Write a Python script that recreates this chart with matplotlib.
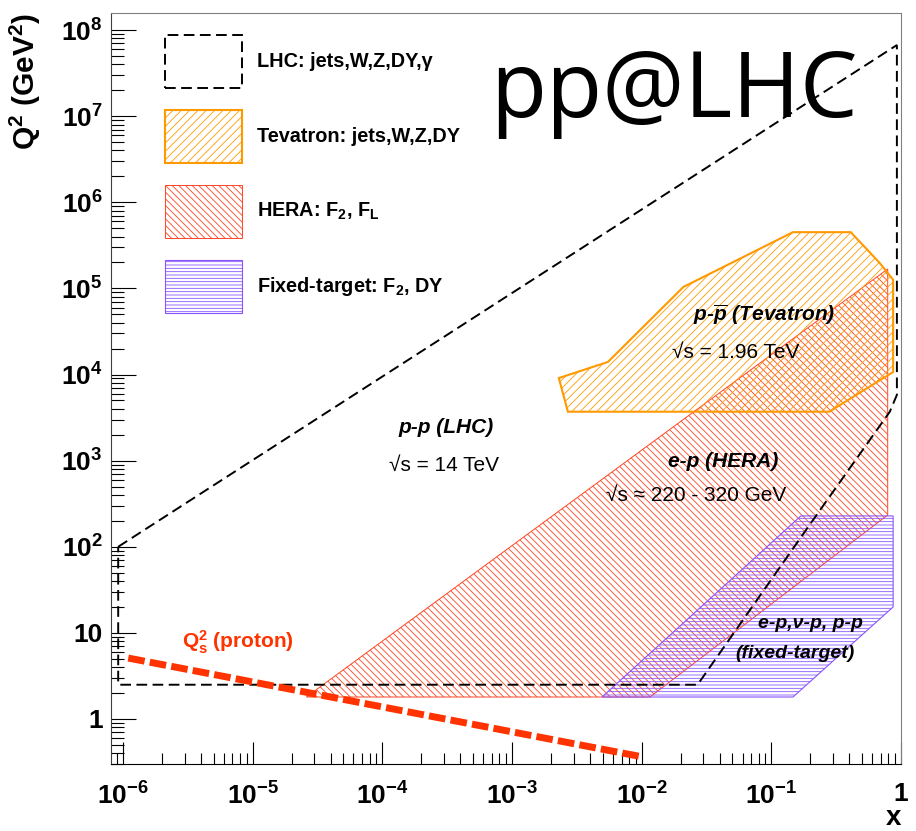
import matplotlib
matplotlib.use("Agg")
import matplotlib.pyplot as plt
from matplotlib.ticker import FixedLocator, FixedFormatter, LogLocator, NullFormatter

plt.rcParams['font.family'] = ['Liberation Sans', 'DejaVu Sans']
plt.rcParams['mathtext.fontset'] = 'custom'
plt.rcParams['mathtext.rm'] = 'Liberation Sans'
plt.rcParams['mathtext.bf'] = 'Liberation Sans:bold'
plt.rcParams['mathtext.it'] = 'Liberation Sans:italic:bold'
plt.rcParams['hatch.linewidth'] = 0.6

# kinematic regions in the (x, Q^2) plane
lhc_x = [9.2e-7, 0.93, 0.93, 0.82, 0.21, 0.027, 9.2e-7]
lhc_q2 = [100, 6.7e7, 5800, 3700, 205, 2.5, 2.5]

tev_x = [2.3e-3, 5.5e-3, 0.021, 0.147, 0.41, 0.68, 0.87, 0.87, 0.28, 2.7e-3]
tev_q2 = [9.1e3, 1.4e4, 1.04e5, 4.5e5, 4.5e5, 2.0e5, 1.26e5, 1.07e4, 3.7e3, 3.7e3]

hera_x = [2.6e-5, 0.79, 0.79, 0.0116]
hera_q2 = [1.8, 1.68e5, 234, 1.8]

fixed_x = [0.169, 0.87, 0.87, 0.147, 4.95e-3]
fixed_q2 = [228, 228, 20, 1.8, 1.8]

# saturation scale of the proton
qs_x = [1.1e-6, 9.5e-3]
qs_q2 = [5.1, 0.37]

xticks = [1e-6, 1e-5, 1e-4, 1e-3, 1e-2, 1e-1, 1]
xlabels = [r'$\mathbf{10^{-6}}$', r'$\mathbf{10^{-5}}$', r'$\mathbf{10^{-4}}$',
           r'$\mathbf{10^{-3}}$', r'$\mathbf{10^{-2}}$', r'$\mathbf{10^{-1}}$', '1']
yticks = [1, 10, 1e2, 1e3, 1e4, 1e5, 1e6, 1e7, 1e8]
ylabels = ['1', '10', r'$\mathbf{10^{2}}$', r'$\mathbf{10^{3}}$', r'$\mathbf{10^{4}}$',
           r'$\mathbf{10^{5}}$', r'$\mathbf{10^{6}}$', r'$\mathbf{10^{7}}$', r'$\mathbf{10^{8}}$']

orange = '#ff9900'
red = '#ff4422'
purple = '#8855ff'

fig = plt.figure(figsize=(9.16, 8.31), dpi=100)
ax = fig.add_axes([0.1212, 0.0806, 0.8624, 0.9038])
ax.set_xscale('log')
ax.set_yscale('log')
ax.set_xlim(8.1e-7, 1.0)
ax.set_ylim(0.30, 1.58e8)

hera = ax.fill(hera_x, hera_q2, facecolor='none', edgecolor=red, hatch='\\\\\\\\\\',
               lw=0.7, label=r'HERA: F$_{\mathbf{2}}$, F$_{\mathbf{L}}$')[0]
fixed = ax.fill(fixed_x, fixed_q2, facecolor='none', edgecolor=purple, hatch='-----',
                lw=0.8, label=r'Fixed-target: F$_{\mathbf{2}}$, DY')[0]
tev = ax.fill(tev_x, tev_q2, facecolor='none', edgecolor=orange, hatch='////',
              lw=1.5, label='Tevatron: jets,W,Z,DY')[0]
lhc = ax.fill(lhc_x, lhc_q2, facecolor='none', edgecolor='black', lw=1.4,
              linestyle=(0, (5.5, 2.8)), label='LHC: jets,W,Z,DY,γ')[0]

ax.plot(qs_x, qs_q2, color='#ff3300', lw=5, dashes=(2.4, 0.75), solid_capstyle='butt')

# axes styling
for side in ['top', 'right']:
    ax.spines[side].set_color('#808080')
ax.spines['left'].set_color('#404040')
for side in ax.spines:
    ax.spines[side].set_linewidth(0.8)

ax.xaxis.set_major_locator(FixedLocator(xticks))
ax.xaxis.set_major_formatter(FixedFormatter(xlabels))
ax.xaxis.set_minor_locator(LogLocator(base=10, subs=range(2, 10), numticks=20))
ax.xaxis.set_minor_formatter(NullFormatter())
ax.yaxis.set_major_locator(FixedLocator(yticks))
ax.yaxis.set_major_formatter(FixedFormatter(ylabels))
ax.yaxis.set_minor_locator(LogLocator(base=10, subs=range(2, 10), numticks=20))
ax.yaxis.set_minor_formatter(NullFormatter())

ax.tick_params(axis='both', which='both', direction='in', top=False, right=False, width=0.8)
ax.tick_params(axis='x', which='major', length=16, pad=13)
ax.tick_params(axis='x', which='minor', length=8)
ax.tick_params(axis='y', which='major', length=18, pad=6)
ax.tick_params(axis='y', which='minor', length=9)
for lab in ax.get_xticklabels() + ax.get_yticklabels():
    lab.set_fontsize(19)
    lab.set_fontweight('bold')

ax.text(-0.109, 1.0, r'Q$^{\mathbf{2}}$ (GeV$^{\mathbf{2}}$)', transform=ax.transAxes,
        rotation=90, ha='center', va='top', fontsize=21.5, fontweight='bold')
ax.text(0.990, -0.072, 'x', transform=ax.transAxes, ha='center', va='center',
        fontsize=20, fontweight='bold')

ax.text(0.713, 0.861, 'pp@LHC', transform=ax.transAxes, ha='center', va='baseline',
        fontsize=66, family='Open Sans')

# region annotations
bi = dict(fontsize=15, fontweight='bold', style='italic', ha='center', va='center')
rg = dict(fontsize=15, ha='center', va='center')
ax.text(3.1e-4, 2400, 'p-p (LHC)', **bi)
ax.text(3.0e-4, 890, '√s = 14 TeV', **rg)
ax.text(0.088, 4.9e4, r'p-$\overline{p}$ (Tevatron)', **bi)
ax.text(0.0534, 1.83e4, '√s = 1.96 TeV', **rg)
ax.text(0.0425, 966, 'e-p (HERA)', **bi)
ax.text(0.0263, 400, '√s ≈ 220 - 320 GeV', **rg)
ax.text(0.202, 12.7, 'e-p,ν-p, p-p', fontsize=14, fontweight='bold', style='italic',
        ha='center', va='center')
ax.text(0.152, 5.8, '(fixed-target)', fontsize=14, fontweight='bold', style='italic',
        ha='center', va='center')
ax.text(7.7e-6, 7.8, r'$\mathbf{Q_s^2}$ (proton)', color='#ff3300', fontsize=15,
        fontweight='bold', ha='center', va='center')

leg = ax.legend(handles=[lhc, tev, hera, fixed], loc='upper left',
                bbox_to_anchor=(0.0684, 0.9707), frameon=False, borderpad=0,
                borderaxespad=0, handlelength=3.85, handleheight=3.73,
                labelspacing=1.1, handletextpad=0.77,
                prop={'size': 14.3, 'weight': 'bold'})

fig.savefig('out.png', dpi=100)
